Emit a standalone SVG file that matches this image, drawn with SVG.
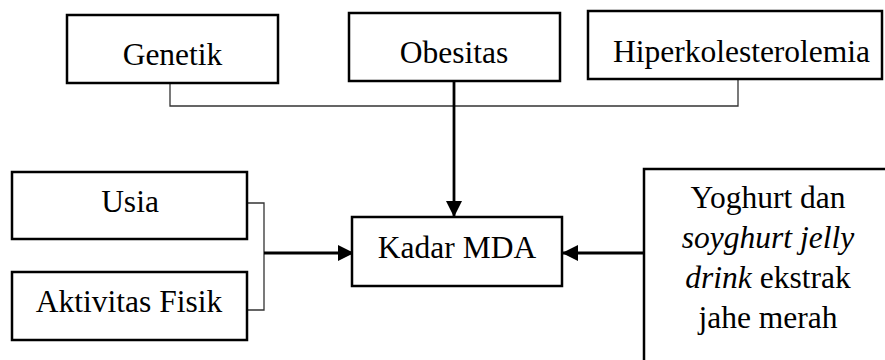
<svg xmlns="http://www.w3.org/2000/svg" width="885" height="360" viewBox="0 0 885 360">
<style>
.box{fill:#fff;stroke:#000;stroke-width:2.5}
.t{font-family:"Liberation Serif","Times New Roman",serif;font-size:31.5px;fill:#000;text-anchor:middle}
.thin{fill:none;stroke:#333;stroke-width:1.3}
.thick{fill:none;stroke:#000;stroke-width:2.8}
</style>
<defs>
<marker id="ah" markerUnits="userSpaceOnUse" markerWidth="16" markerHeight="16" refX="15" refY="8" orient="auto">
<path d="M0,0 L16,8 L0,16 Z" fill="#000"/>
</marker>
</defs>
<rect width="885" height="360" fill="#fff"/>
<g id="connectors">
<polyline class="thin" points="170,83 170,106 738,106 738,79"/>
<line class="thick" x1="454" y1="81" x2="454" y2="216" marker-end="url(#ah)"/>
<polyline class="thin" points="247,203 264,203 264,310 247,310"/>
<line class="thick" x1="264" y1="253" x2="353" y2="253" marker-end="url(#ah)"/>
<line class="thick" x1="644" y1="253" x2="563" y2="253" marker-end="url(#ah)"/>
</g>
<g id="genetik"><rect class="box" x="67" y="15" width="211" height="68"/><text class="t" x="172.5" y="65">Genetik</text></g>
<g id="obesitas"><rect class="box" x="349" y="13" width="211" height="68"/><text class="t" x="454" y="63">Obesitas</text></g>
<g id="hiperkolesterolemia"><rect class="box" x="588" y="11" width="294" height="68"/><text class="t" x="741.5" y="62">Hiperkolesterolemia</text></g>
<g id="usia"><rect class="box" x="12" y="172" width="235" height="67"/><text class="t" x="130" y="212">Usia</text></g>
<g id="aktivitas"><rect class="box" x="12" y="272" width="235" height="68"/><text class="t" x="129" y="312">Aktivitas Fisik</text></g>
<g id="kadar"><rect class="box" x="352" y="217" width="210" height="69"/><text class="t" x="457" y="258">Kadar MDA</text></g>
<g id="yoghurt"><rect class="box" x="644" y="169" width="260" height="220"/>
<text class="t" x="768" y="208">Yoghurt dan</text>
<text class="t" x="768" y="248" font-style="italic">soyghurt jelly</text>
<text class="t" x="768" y="288"><tspan font-style="italic">drink</tspan> ekstrak</text>
<text class="t" x="768" y="328">jahe merah</text>
</g>
</svg>
